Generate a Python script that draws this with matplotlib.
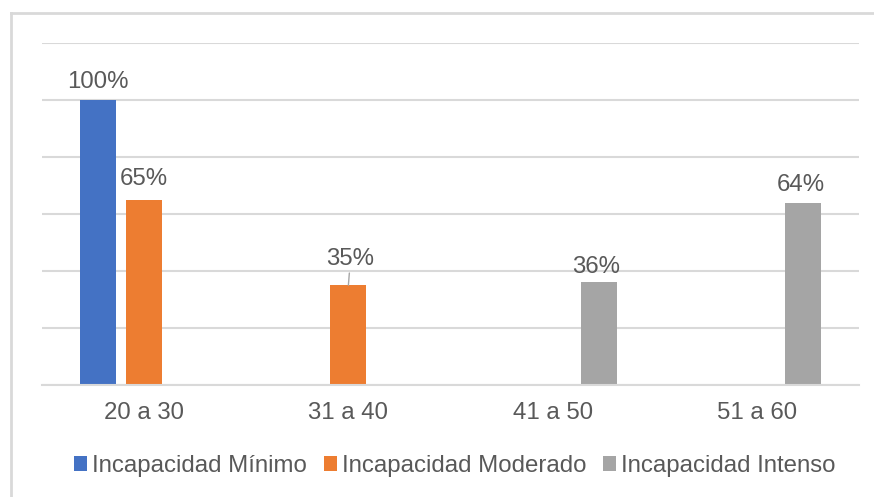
import matplotlib
matplotlib.use("Agg")
import matplotlib.pyplot as plt
from matplotlib.lines import Line2D
import numpy as np

categories = ["20 a 30", "31 a 40", "41 a 50", "51 a 60"]
series_names = ["Incapacidad Mínimo", "Incapacidad Moderado", "Incapacidad Intenso"]
minimo = [1.00, None, None, None]
moderado = [0.65, 0.35, None, None]
intenso = [None, None, 0.36, 0.64]
colors = ["#4472C4", "#ED7D31", "#A5A5A5"]

W, H = 874, 497
plt.rcParams['font.family'] = ['Liberation Sans', 'DejaVu Sans']
fig = plt.figure(figsize=(W / 100, H / 100), dpi=100)
ax = fig.add_axes([42 / W, (H - 385) / H, (859 - 42) / W, (385 - 43) / H])

FS = 17.3
TXT = "#595959"
GRID = "#d9d9d9"

x = np.arange(len(categories))
step = 0.225
width = 0.176
series = [minimo, moderado, intenso]
offsets = [-step, 0, step]

# label offsets (points) per series/category
label_off = {
    (0, 0): (0, 8.6),
    (1, 0): (0, 10.8),
    (1, 1): (1.5, 14.4),
    (2, 2): (-2, 6.8),
    (2, 3): (-1.5, 8.3),
}

for si, (vals, off, col, name) in enumerate(zip(series, offsets, colors, series_names)):
    xs = [xi + off for xi, v in zip(x, vals) if v is not None]
    vs = [v for v in vals if v is not None]
    ax.bar(xs, vs, width=width, color=col, label=name, zorder=3)
    for ci, v in enumerate(vals):
        if v is None:
            continue
        dx, dy = label_off.get((si, ci), (0, 8.6))
        kw = {}
        if (si, ci) == (1, 1):
            kw['arrowprops'] = dict(arrowstyle='-', color='#a6a6a6', lw=1.0,
                                    shrinkA=0, shrinkB=0)
        ax.annotate(f"{int(round(v * 100))}%", xy=(x[ci] + off, v),
                    xytext=(dx, dy), textcoords='offset points',
                    ha='center', va='baseline', fontsize=FS, color=TXT, zorder=4, **kw)

ax.set_xlim(-0.5, len(categories) - 0.5)
ax.set_ylim(0, 1.2)
ax.set_yticks(np.arange(0, 1.21, 0.2))
ax.set_yticklabels([])
ax.tick_params(axis='y', length=0)
ax.grid(axis='y', color=GRID, linewidth=1.5, zorder=0)
ax.set_xticks(x)
ax.set_xticklabels(categories, fontsize=FS, color=TXT)
ax.tick_params(axis='x', length=0, pad=12)
for s in ['top', 'right', 'left']:
    ax.spines[s].set_visible(False)
ax.spines['bottom'].set_color(GRID)
ax.spines['bottom'].set_linewidth(1.5)
ax.spines['bottom'].set_zorder(5)

leg = fig.legend(loc='center', bbox_to_anchor=(455 / W, 1 - 466 / H), ncol=3,
                 frameon=False, fontsize=FS, handlelength=0.55, handleheight=0.55,
                 handletextpad=0.2, columnspacing=0.7, labelcolor=TXT)

# outer chart border (left and top only visible)
fig.add_artist(Line2D([11 / W, 11 / W], [0, 1 - 13 / H], color=GRID, lw=2, transform=fig.transFigure))
fig.add_artist(Line2D([11 / W, 1], [1 - 13 / H, 1 - 13 / H], color=GRID, lw=2, transform=fig.transFigure))

fig.savefig("out.png", dpi=100)
